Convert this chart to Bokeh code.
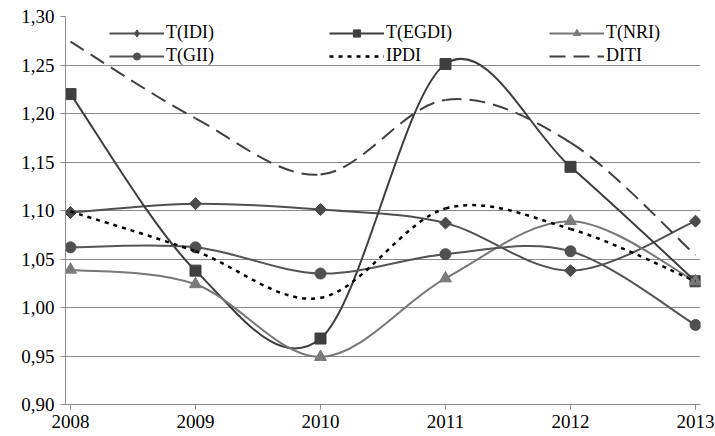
import numpy as np
from bokeh.plotting import figure
from bokeh.models import (Range1d, FixedTicker, CustomJSTickFormatter, Legend,
                          LegendItem, ColumnDataSource)
from bokeh.embed import file_html
from bokeh.resources import INLINE

# ---- data ----
years = [2008, 2009, 2010, 2011, 2012, 2013]
t_idi = [1.098, 1.107, 1.101, 1.087, 1.038, 1.089]
t_egdi = [1.220, 1.038, 0.968, 1.251, 1.145, 1.027]
t_nri = [1.039, 1.024, 0.949, 1.030, 1.089, 1.027]
t_gii = [1.062, 1.062, 1.035, 1.055, 1.058, 0.982]
ipdi = [1.099, 1.058, 1.010, 1.102, 1.081, 1.027]
diti = [1.274, 1.195, 1.137, 1.214, 1.170, 1.054]

y_ticks = [0.90, 0.95, 1.00, 1.05, 1.10, 1.15, 1.20, 1.25, 1.30]
y_tick_labels = ["0,90", "0,95", "1,00", "1,05", "1,10", "1,15", "1,20", "1,25", "1,30"]
x_tick_labels = ["2008", "2009", "2010", "2011", "2012", "2013"]

FONT = "Liberation Serif"


def smooth_segments(xs, ys):
    """Bezier control points for a smoothed line through the data points."""
    x = np.asarray(xs, float)
    y = np.asarray(ys, float)
    xp = np.concatenate([[x[0]], x, [x[-1]]])
    yp = np.concatenate([[y[0]], y, [y[-1]]])
    n = len(x)
    d = dict(x0=[], y0=[], x1=[], y1=[], cx0=[], cy0=[], cx1=[], cy1=[])
    for i in range(n - 1):
        pm, p0, p1, p2 = i, i + 1, i + 2, i + 3
        d["x0"].append(xp[p0]); d["y0"].append(yp[p0])
        d["x1"].append(xp[p1]); d["y1"].append(yp[p1])
        d["cx0"].append(xp[p0] + (xp[p1] - xp[pm]) / 6)
        d["cy0"].append(yp[p0] + (yp[p1] - yp[pm]) / 6)
        d["cx1"].append(xp[p1] - (xp[p2] - xp[p0]) / 6)
        d["cy1"].append(yp[p1] - (yp[p2] - yp[p0]) / 6)
    return ColumnDataSource(d)


p = figure(width=715, height=436,
           x_range=Range1d(2007.96, 2013.04), y_range=Range1d(0.90, 1.30),
           output_backend="svg", toolbar_location=None,
           min_border_left=65, min_border_right=15, min_border_top=16,
           min_border_bottom=32)
p.outline_line_color = None
p.background_fill_color = "white"
p.xgrid.grid_line_color = None
p.ygrid.grid_line_color = "#8a8a8a"
p.ygrid.grid_line_width = 1

p.xaxis.ticker = FixedTicker(ticks=years)
p.xaxis.major_label_overrides = {yr: lab for yr, lab in zip(years, x_tick_labels)}
p.yaxis.ticker = FixedTicker(ticks=y_ticks)
p.yaxis.formatter = CustomJSTickFormatter(
    args=dict(vals=y_ticks, labels=y_tick_labels),
    code="""
    let best = 0;
    for (let i = 0; i < vals.length; i++) {
        if (Math.abs(vals[i] - tick) < Math.abs(vals[best] - tick)) best = i;
    }
    return labels[best];
    """)

for ax in (p.xaxis[0], p.yaxis[0]):
    ax.axis_line_color = "#8a8a8a"
    ax.major_tick_line_color = "#8a8a8a"
    ax.minor_tick_line_color = None
    ax.major_tick_in = 0
    ax.major_tick_out = 5
    ax.major_label_text_font = FONT
    ax.major_label_text_font_size = "19px"
    ax.major_label_text_color = "black"
p.xaxis.major_label_standoff = 5
p.yaxis.major_label_standoff = 6

# name, values, line colour, dash, width, marker, angle, size, marker colour, legend marker
series = [
    ("T(IDI)", t_idi, "#4f4f4f", "solid", 2, "square", np.pi / 4, 8.5, "#4a4a4a", "diamond"),
    ("T(EGDI)", t_egdi, "#3d3d3d", "solid", 2, "square", 0, 11, "#3f3f3f", None),
    ("T(NRI)", t_nri, "#777777", "solid", 2, "triangle", 0, 12, "#7a7a7a", None),
    ("T(GII)", t_gii, "#555555", "solid", 2, "circle", 0, 11, "#505050", None),
    ("IPDI", ipdi, "#000000", "4 5", 2.5, None, 0, 0, None, None),
    ("DITI", diti, "#404040", "16 8", 2, None, 0, 0, None, None),
]

items = []
for name, vals, color, dash, lw, marker, angle, size, mcolor, lmarker in series:
    src = smooth_segments(years, vals)
    r_line = p.bezier(x0="x0", y0="y0", x1="x1", y1="y1", cx0="cx0", cy0="cy0",
                      cx1="cx1", cy1="cy1", source=src, line_color=color,
                      line_width=lw, line_dash=dash)
    rends = [r_line]
    if marker:
        r_m = p.scatter(x=years, y=vals, marker=marker, angle=angle, size=size,
                        fill_color=mcolor, line_color=mcolor)
        if lmarker:
            # unrotated diamond of the same points, used only for the legend swatch
            r_l = p.scatter(x=years, y=vals, marker=lmarker, size=14,
                            fill_color=mcolor, line_color=mcolor, visible=False)
            rends.append(r_l)
        else:
            rends.append(r_m)
    items.append(LegendItem(label=name, renderers=rends))

common = dict(ncols=3, orientation="horizontal",
              glyph_width=55, glyph_height=18, label_height=18,
              label_width=163, label_standoff=2, spacing=0, padding=0,
              margin=0, border_line_color=None, background_fill_alpha=0,
              label_text_font=FONT, label_text_font_size="18px",
              label_text_color="black")
legend_top = Legend(items=items[:3], location=(44, 361), **common)
legend_bot = Legend(items=items[3:], location=(44, 338), **common)
p.add_layout(legend_top)
p.add_layout(legend_bot)

open("out.html", "w").write(file_html(p, INLINE))
